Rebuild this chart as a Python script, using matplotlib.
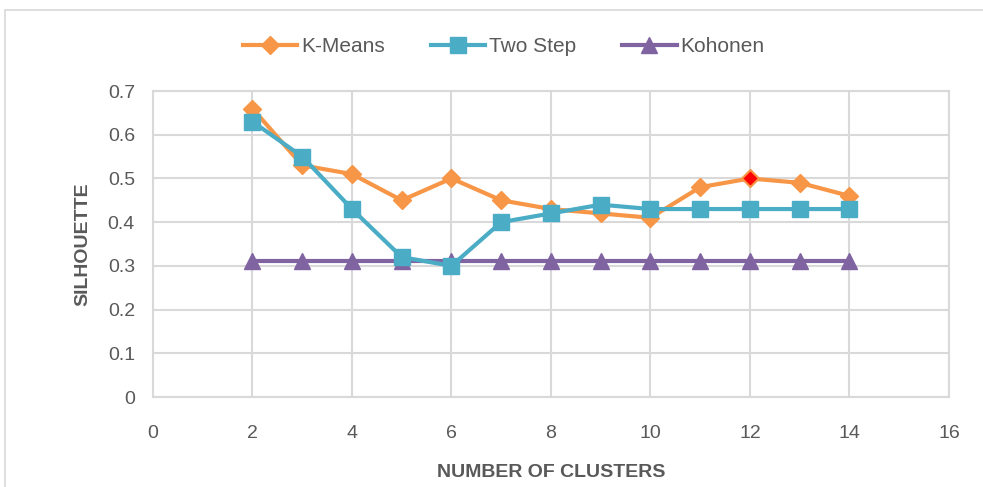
import matplotlib.pyplot as plt
from matplotlib.patches import Rectangle

plt.rcParams["font.family"] = ["Liberation Sans", "DejaVu Sans"]

# data
clusters = [2, 3, 4, 5, 6, 7, 8, 9, 10, 11, 12, 13, 14]
kmeans = [0.66, 0.53, 0.51, 0.45, 0.50, 0.45, 0.43, 0.42, 0.41, 0.48, 0.50, 0.49, 0.46]
two_step = [0.63, 0.55, 0.43, 0.32, 0.30, 0.40, 0.42, 0.44, 0.43, 0.43, 0.43, 0.43, 0.43]
kohonen = [0.31, 0.31, 0.31, 0.31, 0.31, 0.31, 0.31, 0.31, 0.31, 0.31, 0.31, 0.31, 0.31]
highlight_idx = 10  # k-means point at 12 clusters drawn in red

c_km = '#F79646'
c_ts = '#4BACC6'
c_ko = '#8064A2'
grid_c = '#D9D9D9'
text_c = '#595959'

fig = plt.figure(figsize=(9.83, 4.87), dpi=100, facecolor='white')
ax = fig.add_axes([0.1556, 0.1848, 0.8098, 0.6283])

# outer chart border
fig.patches.append(Rectangle((5 / 983, -0.1), 1.2, 1 - 10 / 487 + 0.1,
                             transform=fig.transFigure, fill=False,
                             edgecolor='#D9D9D9', linewidth=1.2))

ax.plot(clusters, kmeans, color=c_km, linewidth=3, marker='D', markersize=9,
        label='K-Means', zorder=3)
ax.plot(clusters[highlight_idx], kmeans[highlight_idx], marker='D', markersize=8,
        color='red', markeredgecolor=c_km, markeredgewidth=1, zorder=5)
ax.plot(clusters, two_step, color=c_ts, linewidth=3, marker='s', markersize=11,
        label='Two Step', zorder=4)
ax.plot(clusters, kohonen, color=c_ko, linewidth=3, marker='^', markersize=11,
        label='Kohonen', zorder=2)

ax.set_xlim(0, 16)
ax.set_ylim(0, 0.7)
ax.set_xticks(range(0, 17, 2))
ax.set_yticks([0, 0.1, 0.2, 0.3, 0.4, 0.5, 0.6, 0.7])
ax.set_yticklabels(['0', '0.1', '0.2', '0.3', '0.4', '0.5', '0.6', '0.7'])
ax.grid(True, color=grid_c, linewidth=1.5)
ax.set_axisbelow(True)
for s in ax.spines.values():
    s.set_color(grid_c)
    s.set_linewidth(1.5)
ax.tick_params(length=0, labelsize=14, labelcolor=text_c)
ax.tick_params(axis='x', pad=20)
ax.tick_params(axis='y', pad=13)

ax.set_xlabel('NUMBER OF CLUSTERS', fontsize=14, fontweight='bold', color=text_c, labelpad=16)
ax.set_ylabel('SILHOUETTE', fontsize=14, fontweight='bold', color=text_c, labelpad=12)

handles, labels = ax.get_legend_handles_labels()
fig.legend(handles, labels, loc='center', bbox_to_anchor=(504 / 983, 1 - 47 / 487),
           ncol=3, frameon=False, fontsize=15, labelcolor=text_c,
           handlelength=2.6, handletextpad=0.2, columnspacing=2.2)

plt.savefig('out.png')
